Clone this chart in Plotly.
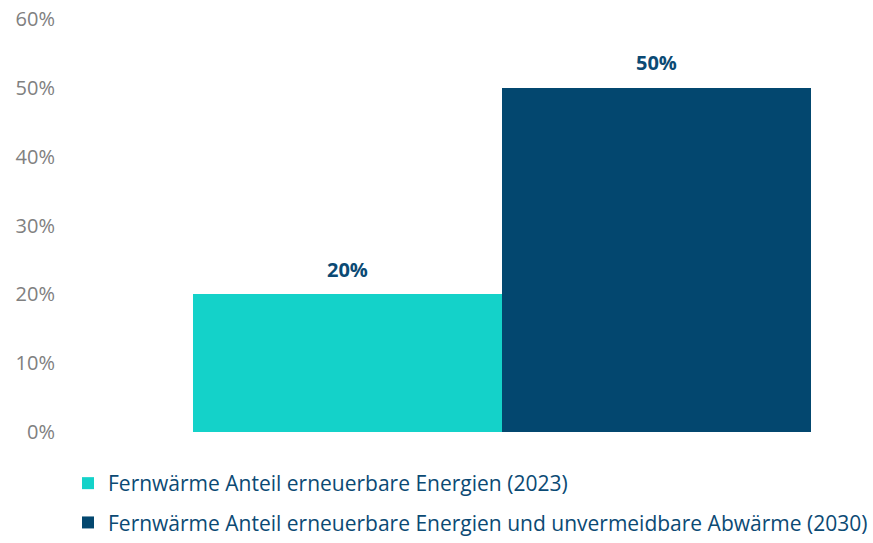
import plotly.graph_objects as go

# Anteil erneuerbarer Energien an der Fernwärme
series_names = [
    "Fernwärme Anteil erneuerbare Energien (2023)",
    "Fernwärme Anteil erneuerbare Energien und unvermeidbare Abwärme (2030)",
]
series_values = [20, 50]
series_colors = ["#14D2C9", "#03476F"]
category = ["Fernwärme"]
tick_values = [0, 10, 20, 30, 40, 50, 60]
tick_labels = [f"{v}%" for v in tick_values]

FONT = "Open Sans, Noto Sans, sans-serif"
LABEL_COLOR = "#0B4A74"
BAR_HALF_PX = 154.5  # horizontal offset of each bar centre within the group

fig = go.Figure()
for i, (name, val, col) in enumerate(zip(series_names, series_values, series_colors)):
    fig.add_trace(go.Bar(
        x=category,
        y=[val],
        name=name,
        legendgroup=f"g{i}",
        marker=dict(color=col, line=dict(width=0)),
        hoverinfo="skip",
    ))
    # value label above each bar
    fig.add_annotation(
        x=category[0],
        y=val,
        xref="x",
        yref="y",
        text=f"<b>{val}%</b>",
        showarrow=False,
        xshift=(-1 if i == 0 else 1) * BAR_HALF_PX,
        yshift=25,
        yanchor="middle",
        font=dict(family=FONT, size=20, color=LABEL_COLOR),
    )

fig.update_layout(
    width=873,
    height=543,
    margin=dict(l=70, r=0, t=19, b=110),
    paper_bgcolor="white",
    plot_bgcolor="white",
    barmode="group",
    bargap=0,
    bargroupgap=0,
    font=dict(family=FONT),
    showlegend=True,
    legend=dict(
        orientation="v",
        x=0.0,
        xanchor="left",
        y=-0.075,
        yanchor="top",
        font=dict(family=FONT, size=21, color=LABEL_COLOR),
        traceorder="grouped",
        tracegroupgap=9,
        itemwidth=30,
    ),
    xaxis=dict(
        range=[-0.699, 0.6003],
        showticklabels=False,
        showgrid=False,
        zeroline=False,
        showline=False,
        ticks="",
    ),
    yaxis=dict(
        range=[0, 60],
        tickvals=tick_values,
        ticktext=tick_labels,
        tickfont=dict(family=FONT, size=20, color="#808080"),
        showgrid=False,
        zeroline=False,
        showline=False,
        ticks="",
        ticklabelstandoff=14,
    ),
)

fig.write_html("out.html")
